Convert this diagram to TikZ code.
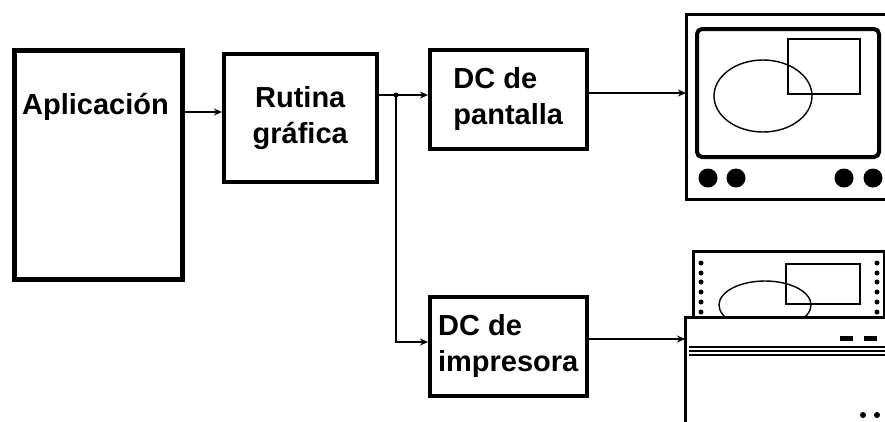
\documentclass[tikz,border=0pt]{standalone}
\usepackage{fontspec}
\setmainfont{Liberation Sans}
\usetikzlibrary{arrows.meta, positioning, calc}

\begin{document}
\begin{tikzpicture}[
  x=1pt, y=-1pt,
  box/.style={draw, line width=3.5pt, minimum width=157pt, minimum height=99pt, inner sep=0pt, align=left, font=\fontsize{29}{36}\selectfont\bfseries},
  arr/.style={-{Stealth[length=8pt, width=7pt]}, line width=1.3pt},
  knob/.style={fill=black, circle, minimum size=19pt, inner sep=0pt},
  hole/.style={fill=black, circle, minimum size=5pt, inner sep=0pt},
]
\clip (0,0) rectangle (885,421);

% Blocks
\node[box, line width=5pt, minimum width=168pt, minimum height=229pt, anchor=north west] (app) at (12,48) {};
\node[font=\fontsize{29}{36}\selectfont\bfseries] (apptext) at ([xshift=-3pt, yshift=-59pt]app.north) {Aplicación};
\node[box, minimum width=153pt, minimum height=128pt, align=center, anchor=north west] (rutina) at (222,52) {Rutina\\gráfica};
\node[box, anchor=north west] (pantalla) at (428,48) {DC de\\pantalla};
\node[box, anchor=north west] (impresora) at (428,295) {DC de\\impresora};

% Monitor
\draw[line width=3pt] (686,14) rectangle (895,199);
\draw[line width=4pt, rounded corners=5pt] (697,29) rectangle (879,157);
\draw[line width=1.4pt] (763,96) ellipse [x radius=49, y radius=36];
\draw[line width=1.4pt] (788,39) rectangle (860,94);
\foreach \x in {708, 736, 844, 873}
  \node[knob] at (\x,178) {};
\coordinate (monitor) at (686,93);

% Printer
\draw[line width=3pt] (693,251) rectangle (884,317);
\foreach \y in {263, 273, 282, 292, 302, 312} {
  \node[hole] at (701,\y) {};
  \node[hole] at (877,\y) {};
}
\begin{scope}
  \clip (693,251) rectangle (884,316);
  \draw[line width=1.4pt] (765,305) ellipse [x radius=46, y radius=24];
\end{scope}
\draw[line width=1.4pt] (786,264) rectangle (860,304);
\draw[line width=3pt] (685,317) rectangle (895,440);
\foreach \y in {347, 351, 355}
  \draw[line width=1.1pt] (689,\y) -- (895,\y);
\fill (840,336) rectangle (853,341);
\fill (864,336) rectangle (877,341);
\node[hole, minimum size=6pt] at (863,415) {};
\node[hole, minimum size=6pt] at (877,415) {};
\coordinate (printer) at (685,339);

% Connections
\coordinate (split) at (396,95);
\draw[arr] (app.east |- 0,112) -- (rutina.west |- 0,112);
\draw[line width=1.3pt] (rutina.east |- split) -- (split);
\draw[arr] (split) -- (pantalla.west |- split);
\draw[arr] (split) |- (impresora.west |- 0,342);
\fill (split) circle (2.5pt);
\draw[arr] (pantalla.east |- monitor) -- (monitor);
\draw[arr] (impresora.east |- printer) -- (printer);

\end{tikzpicture}
\end{document}
